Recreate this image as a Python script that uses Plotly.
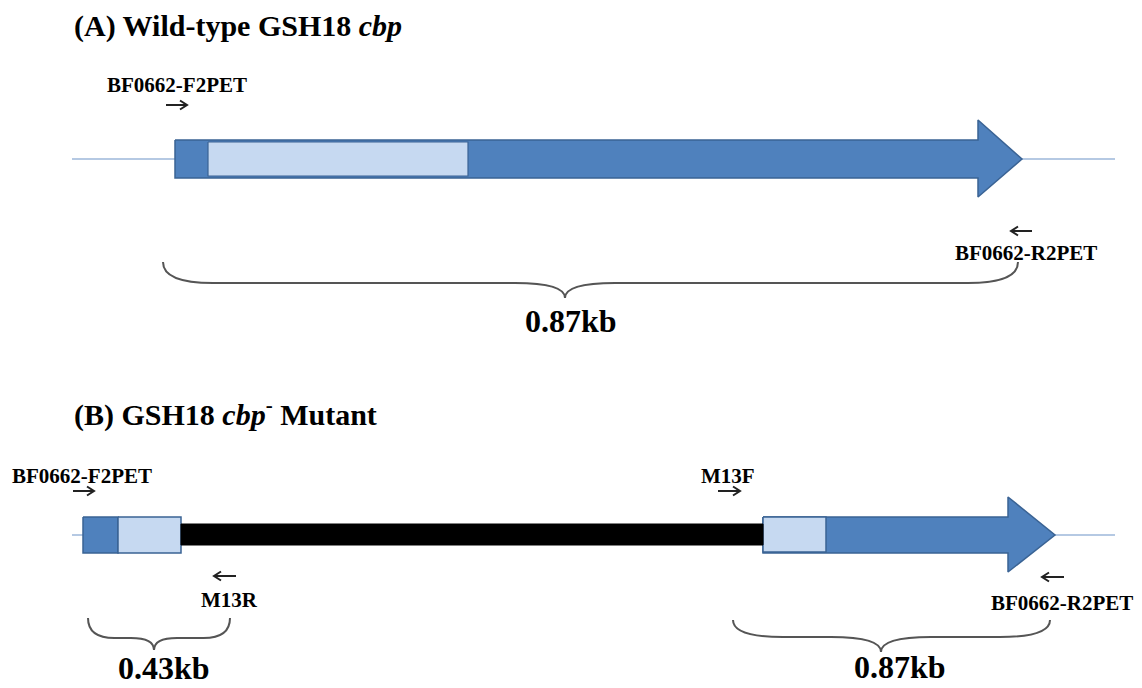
import plotly.graph_objects as go

# ---------------- data (diagram coordinates, px-like units) ----------------
W, H = 1142, 688
PAGE_OFFSET = 8  # default body margin of the html page

# Panel A : wild-type gene
A_axis_y = 159
A_flank_left = [72, 175]
A_flank_right = [1022, 1115]
A_body = dict(x0=175, x1=978, tip=1022, top=140, bottom=178, head_top=120, head_bottom=197)
A_light = [208, 468]

# Panel B : mutant
B_axis_y = 535
B_flank_left = [72, 83]
B_flank_right = [1055, 1115]
B_left_dark = [83, 118]
B_left_light = [118, 181]
B_insert = [181, 763]
B_insert_y = [524, 545]
B_right_light = [763, 826]
B_body = dict(x0=763, x1=1008, tip=1055, top=517, bottom=553, head_top=497, head_bottom=572)
B_box_y = [517, 553]

# Primers
primer_labels = ["BF0662-F2PET", "BF0662-R2PET", "BF0662-F2PET", "M13F", "M13R", "BF0662-R2PET"]
primer_label_x = [177, 1026, 82, 728, 229, 1062]
primer_label_y = [85, 253, 476, 476, 600, 603]
primer_arrow_from = [166, 1032, 73, 718, 236, 1064]
primer_arrow_to = [187, 1011, 94, 740, 214, 1042]
primer_arrow_y = [105, 231, 491, 491, 576, 577]

# Amplicon braces
brace_x0 = [163, 88, 733]
brace_x1 = [1018, 230, 1050]
brace_xc = [565, 154, 881]
brace_end_y = [262, 618, 620]
brace_flat_y = [283, 638, 637]
brace_cusp_y = [298, 650, 652]
brace_labels = ["0.87kb", "0.43kb", "0.87kb"]
brace_label_x = [571, 164, 900]
brace_label_y = [321, 668, 667]

titles = ["(A) Wild-type GSH18 <i>cbp</i>", "(B) GSH18 <i>cbp</i><sup>-</sup> Mutant"]
title_x = [72, 72]
title_y = [26, 412]

# ---------------- styles ----------------
DARK = "#4f81bd"
DARK_EDGE = "#3a6394"
LIGHT = "#c6d9f1"
FLANK = "#9db7da"
FONT = "Liberation Serif"

fig = go.Figure()


def poly(xs, ys, fill, edge, w=1.5):
    fig.add_trace(go.Scatter(x=xs + [xs[0]], y=ys + [ys[0]], mode="lines", fill="toself",
                             fillcolor=fill, line=dict(color=edge, width=w),
                             hoverinfo="skip", showlegend=False))


def rect(x0, x1, y0, y1, fill, edge, w=1.5):
    poly([x0, x1, x1, x0], [y0, y0, y1, y1], fill, edge, w)


def line(xs, ys, color, w):
    fig.add_trace(go.Scatter(x=xs, y=ys, mode="lines", line=dict(color=color, width=w),
                             hoverinfo="skip", showlegend=False))


def gene_arrow(b, axis_y):
    xs = [b["x0"], b["x1"], b["x1"], b["tip"], b["x1"], b["x1"], b["x0"]]
    ys = [b["top"], b["top"], b["head_top"], axis_y, b["head_bottom"], b["bottom"], b["bottom"]]
    poly(xs, ys, DARK, DARK_EDGE)


# Panel A
line(A_flank_left, [A_axis_y] * 2, FLANK, 1.5)
line(A_flank_right, [A_axis_y] * 2, FLANK, 1.5)
gene_arrow(A_body, A_axis_y)
rect(A_light[0], A_light[1], A_body["top"] + 2, A_body["bottom"] - 2, LIGHT, DARK_EDGE, 1.2)

# Panel B
line(B_flank_left, [B_axis_y] * 2, FLANK, 1.5)
line(B_flank_right, [B_axis_y] * 2, FLANK, 1.5)
rect(B_left_dark[0], B_left_dark[1], B_box_y[0], B_box_y[1], DARK, DARK_EDGE)
rect(B_left_light[0], B_left_light[1], B_box_y[0], B_box_y[1], LIGHT, DARK_EDGE)
gene_arrow(B_body, B_axis_y)
rect(B_right_light[0], B_right_light[1], B_box_y[0], B_box_y[1] - 1, LIGHT, DARK_EDGE)
rect(B_insert[0], B_insert[1], B_insert_y[0], B_insert_y[1], "#000000", "#000000", 1)

# Primer arrows (shaft + open head)
ax_x, ax_y = [], []
for xf, xt, y in zip(primer_arrow_from, primer_arrow_to, primer_arrow_y):
    d = 1 if xt > xf else -1
    ax_x += [xf, xt, None, xt - d * 7, xt, xt - d * 7, None]
    ax_y += [y, y, None, y - 4.5, y, y + 4.5, None]
fig.add_trace(go.Scatter(x=ax_x, y=ax_y, mode="lines", line=dict(color="#222222", width=2),
                         hoverinfo="skip", showlegend=False))

shapes = []
for x0, x1, xc, ye, yf, yc in zip(brace_x0, brace_x1, brace_xc, brace_end_y, brace_flat_y, brace_cusp_y):
    r = min(50, (xc - x0) * 0.4, (x1 - xc) * 0.4)
    rc = min(50, (xc - x0) * 0.35, (x1 - xc) * 0.35)
    path = (f"M {x0},{ye} Q {x0},{yf} {x0 + r},{yf} L {xc - rc},{yf} "
            f"Q {xc},{yf} {xc},{yc} Q {xc},{yf} {xc + rc},{yf} L {x1 - r},{yf} "
            f"Q {x1},{yf} {x1},{ye}")
    shapes.append(dict(type="path", path=path, xref="x", yref="y",
                       line=dict(color="#555555", width=2)))

annotations = []
for t, x, y in zip(titles, title_x, title_y):
    annotations.append(dict(x=x, y=y, xref="x", yref="y", text=f"<b>{t}</b>", showarrow=False,
                            xanchor="left", yanchor="middle",
                            font=dict(family=FONT, size=30, color="#000000")))
for t, x, y in zip(primer_labels, primer_label_x, primer_label_y):
    annotations.append(dict(x=x, y=y, xref="x", yref="y", text=f"<b>{t}</b>", showarrow=False,
                            xanchor="center", yanchor="middle",
                            font=dict(family=FONT, size=21, color="#000000")))
for t, x, y in zip(brace_labels, brace_label_x, brace_label_y):
    annotations.append(dict(x=x, y=y, xref="x", yref="y", text=f"<b>{t}</b>", showarrow=False,
                            xanchor="center", yanchor="middle",
                            font=dict(family=FONT, size=32, color="#000000")))

fig.update_layout(
    width=W, height=H, margin=dict(l=0, r=0, t=0, b=0),
    paper_bgcolor="white", plot_bgcolor="white",
    xaxis=dict(range=[PAGE_OFFSET, W + PAGE_OFFSET], visible=False, fixedrange=True),
    yaxis=dict(range=[H + PAGE_OFFSET, PAGE_OFFSET], visible=False, fixedrange=True),
    shapes=shapes, annotations=annotations, showlegend=False,
)

fig.write_html("out.html")
